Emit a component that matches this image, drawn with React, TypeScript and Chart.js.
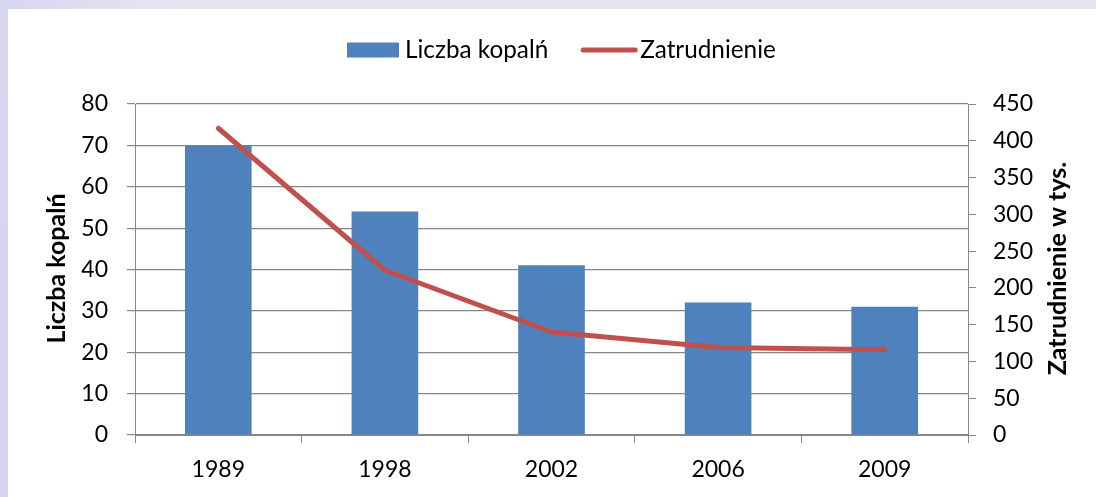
import React, { useEffect, useRef } from "react";
import { Chart, registerables } from "chart.js";

Chart.register(...registerables);

const years = ["1989", "1998", "2002", "2006", "2009"];
const mines = [70, 54, 41, 32, 31];
const employment = [417, 224, 140, 119, 116];
const leftTicks = { min: 0, max: 80, step: 10 };
const rightTicks = { min: 0, max: 450, step: 50 };
const seriesNames = ["Liczba kopalń", "Zatrudnienie"];
const axisTitles = ["Liczba kopalń", "Zatrudnienie w tys."];

const BAR_COLOR = "#4f81bd";
const LINE_COLOR = "#c0504d";
const GRID_COLOR = "#878787";
const FONT = "Lato, 'Open Sans', sans-serif";

const W = 1088;
const H = 488;

const overlayPlugin = {
  id: "overlay",
  afterDraw(chart: any) {
    const ctx = chart.ctx as CanvasRenderingContext2D;
    const area = chart.chartArea;
    ctx.save();
    // legend
    ctx.font = `24.3px ${FONT}`;
    ctx.textBaseline = "middle";
    const ly = 41;
    let x = 339;
    ctx.fillStyle = BAR_COLOR;
    ctx.fillRect(x, ly - 7.5, 52, 15);
    x += 52 + 6;
    ctx.fillStyle = "#000";
    ctx.textAlign = "left";
    const l0 = chart.data.datasets[0].label;
    ctx.fillText(l0, x, ly);
    x += ctx.measureText(l0).width + 33;
    ctx.strokeStyle = LINE_COLOR;
    ctx.lineWidth = 5;
    ctx.lineCap = "round";
    ctx.beginPath();
    ctx.moveTo(x + 2, ly);
    ctx.lineTo(x + 54, ly);
    ctx.stroke();
    x += 56 + 3;
    ctx.fillStyle = "#000";
    ctx.fillText(chart.data.datasets[1].label, x, ly);

    // axis titles (both read bottom-to-top)
    const cy = (area.top + area.bottom) / 2 - 1;
    ctx.font = `bold 25px ${FONT}`;
    ctx.textAlign = "center";
    ctx.textBaseline = "middle";
    ctx.fillStyle = "#000";
    const drawRot = (txt: string, cx: number) => {
      ctx.save();
      ctx.translate(cx, cy);
      ctx.rotate(-Math.PI / 2);
      ctx.fillText(txt, 0, 0);
      ctx.restore();
    };
    drawRot(axisTitles[0], 49);
    drawRot(axisTitles[1], 1050);
    ctx.restore();
  },
};

export default function App() {
  const ref = useRef<HTMLCanvasElement | null>(null);
  useEffect(() => {
    if (!ref.current) return;
    const tickFont = { family: FONT, size: 23 };
    const chart = new Chart(ref.current, {
      type: "bar",
      data: {
        labels: years,
        datasets: [
          {
            type: "bar",
            label: seriesNames[0],
            data: mines,
            backgroundColor: BAR_COLOR,
            borderWidth: 0,
            barPercentage: 0.4,
            categoryPercentage: 1,
            yAxisID: "y",
            order: 2,
          },
          {
            type: "line",
            label: seriesNames[1],
            data: employment,
            borderColor: LINE_COLOR,
            backgroundColor: LINE_COLOR,
            borderWidth: 5,
            borderCapStyle: "round",
            borderJoinStyle: "round",
            pointRadius: 0,
            tension: 0,
            yAxisID: "y1",
            order: 1,
          },
        ],
      } as any,
      options: {
        animation: false,
        responsive: false,
        maintainAspectRatio: false,
        layout: { padding: { top: 95, left: 0, right: 0, bottom: 0 } },
        plugins: {
          legend: { display: false },
          tooltip: { enabled: false },
          title: { display: false },
        },
        scales: {
          x: {
            grid: {
              offset: true,
              drawOnChartArea: false,
              drawTicks: true,
              tickLength: 8,
              color: GRID_COLOR,
            },
            border: { color: GRID_COLOR },
            ticks: { font: tickFont, color: "#000", padding: 13, maxRotation: 0 },
            afterFit: (s: any) => {
              s.height = 62;
            },
          },
          y: {
            position: "left",
            min: leftTicks.min,
            max: leftTicks.max,
            ticks: { stepSize: leftTicks.step, font: tickFont, color: "#000", padding: 19 },
            grid: { color: GRID_COLOR, tickLength: 8, lineWidth: 1.2 },
            border: { color: GRID_COLOR },
            afterFit: (s: any) => {
              s.width = 127;
            },
          },
          y1: {
            position: "right",
            min: rightTicks.min,
            max: rightTicks.max,
            ticks: { stepSize: rightTicks.step, font: tickFont, color: "#000", padding: 17 },
            grid: { drawOnChartArea: false, color: GRID_COLOR, tickLength: 8 },
            border: { color: GRID_COLOR },
            afterFit: (s: any) => {
              s.width = 128;
            },
          },
        },
      } as any,
      plugins: [overlayPlugin],
    });
    return () => chart.destroy();
  }, []);

  return (
    <div
      style={{
        position: "fixed",
        left: 0,
        top: 0,
        width: 1096,
        height: 497,
        background: "#e6e6f3",
        overflow: "hidden",
      }}
    >
      <div
        style={{
          position: "absolute",
          left: 0,
          top: 0,
          width: 8,
          height: 497,
          background: "linear-gradient(#d6d6ef, #d4d4f1)",
        }}
      />
      <div
        style={{
          position: "absolute",
          left: 0,
          top: 0,
          width: 180,
          height: 9,
          background: "linear-gradient(90deg, #d6d6ef, #e6e6f3)",
        }}
      />
      <div
        style={{
          position: "absolute",
          left: 8,
          top: 9,
          width: W,
          height: H,
          background: "#fff",
        }}
      >
        <canvas ref={ref} width={W} height={H} style={{ width: W, height: H, display: "block" }} />
      </div>
    </div>
  );
}
